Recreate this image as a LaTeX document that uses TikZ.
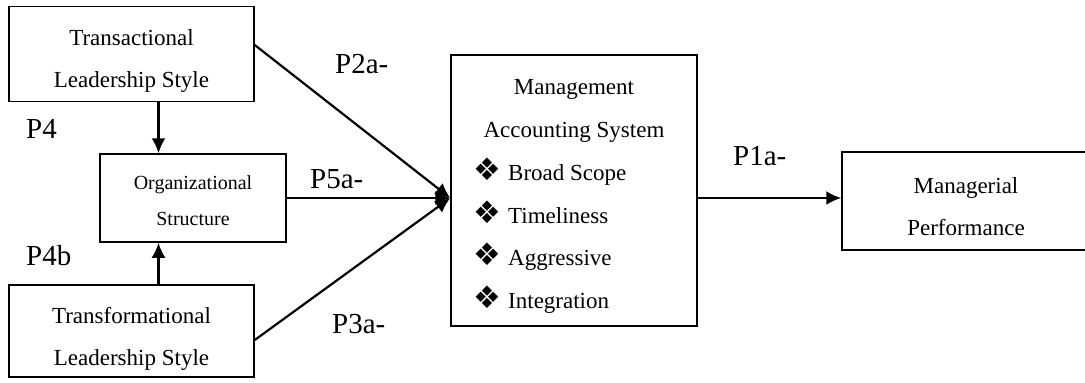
\documentclass[tikz,border=0pt]{standalone}
\usepackage{fontspec}
\setmainfont{Liberation Serif}
\newfontfamily\dingfont{DejaVu Sans}
\usetikzlibrary{arrows.meta}
\newcommand{\dia}{\makebox[35pt][l]{\dingfont\fontsize{31}{31}\selectfont ❖}}

\begin{document}
\begin{tikzpicture}[x=1pt,y=-1pt]

\tikzset{box/.style = {shape=rectangle,draw,line width=1.5pt,inner sep=0pt,align=center,font=\fontsize{23}{42}\selectfont}}
\tikzset{edge/.style = {-{Latex[length=15pt,width=14pt]},line width=2.2pt}}
\tikzset{plabel/.style = {anchor=base west,inner sep=0pt,font=\fontsize{29}{29}\selectfont}}
\tikzset{item/.style = {anchor=base west,inner sep=0pt,font=\fontsize{23}{23}\selectfont}}
\useasboundingbox (0,0) rectangle (1085,383);
% boxes
\node[box,minimum width=245,minimum height=95] (trans) at (131.5,54) {\rule{0pt}{30pt}Transactional\\Leadership Style};
\node[box,minimum width=186,minimum height=88,font=\fontsize{20}{36}\selectfont] (org) at (193,198) {\rule{0pt}{20pt}Organizational\\Structure};
\node[box,minimum width=245,minimum height=92] (transf) at (131.5,331) {\rule{0pt}{31pt}Transformational\\Leadership Style};
\node[box,minimum width=246,minimum height=271] (mas) at (574,190.5) {};
\node[box,minimum width=248,minimum height=98] (mp) at (966,201) {\rule{0pt}{27pt}Managerial\\Performance};
% system contents
\node[item,anchor=base] (mast1) at (574,94) {Management};
\node[item,anchor=base] (mast2) at (574,137) {Accounting System};
\node[item] (scope) at (473,180) {\dia Broad Scope};
\node[item] (time) at (473,223) {\dia Timeliness};
\node[item] (aggr) at (473,265) {\dia Aggressive};
\node[item] (integ) at (473,308) {\dia Integration};
% labels
\node[plabel] (p4) at (26,138) {P4};
\node[plabel] (p4b) at (26,265) {P4b};
\node[plabel] (p2a) at (335,73) {P2a-};
\node[plabel] (p5a) at (310,188) {P5a-};
\node[plabel] (p3a) at (332,333) {P3a-};
\node[plabel] (p1a) at (733,165) {P1a-};
%edges
\coordinate (hub) at (org.east -| mas.west);
\draw[edge] ([xshift=27pt]trans.south) to ([xshift=27pt]trans.south |- org.north);
\draw[edge] ([xshift=27pt]transf.north) to ([xshift=27pt]transf.north |- org.south);
\draw[edge] ([yshift=9pt]trans.east) to (hub);
\draw[edge] ([yshift=-9pt]transf.east) to (hub);
\draw[edge] (org.east) to (hub);
\draw[edge] (mas.east |- hub) to (hub -| mp.west);
\end{tikzpicture}
\end{document}
